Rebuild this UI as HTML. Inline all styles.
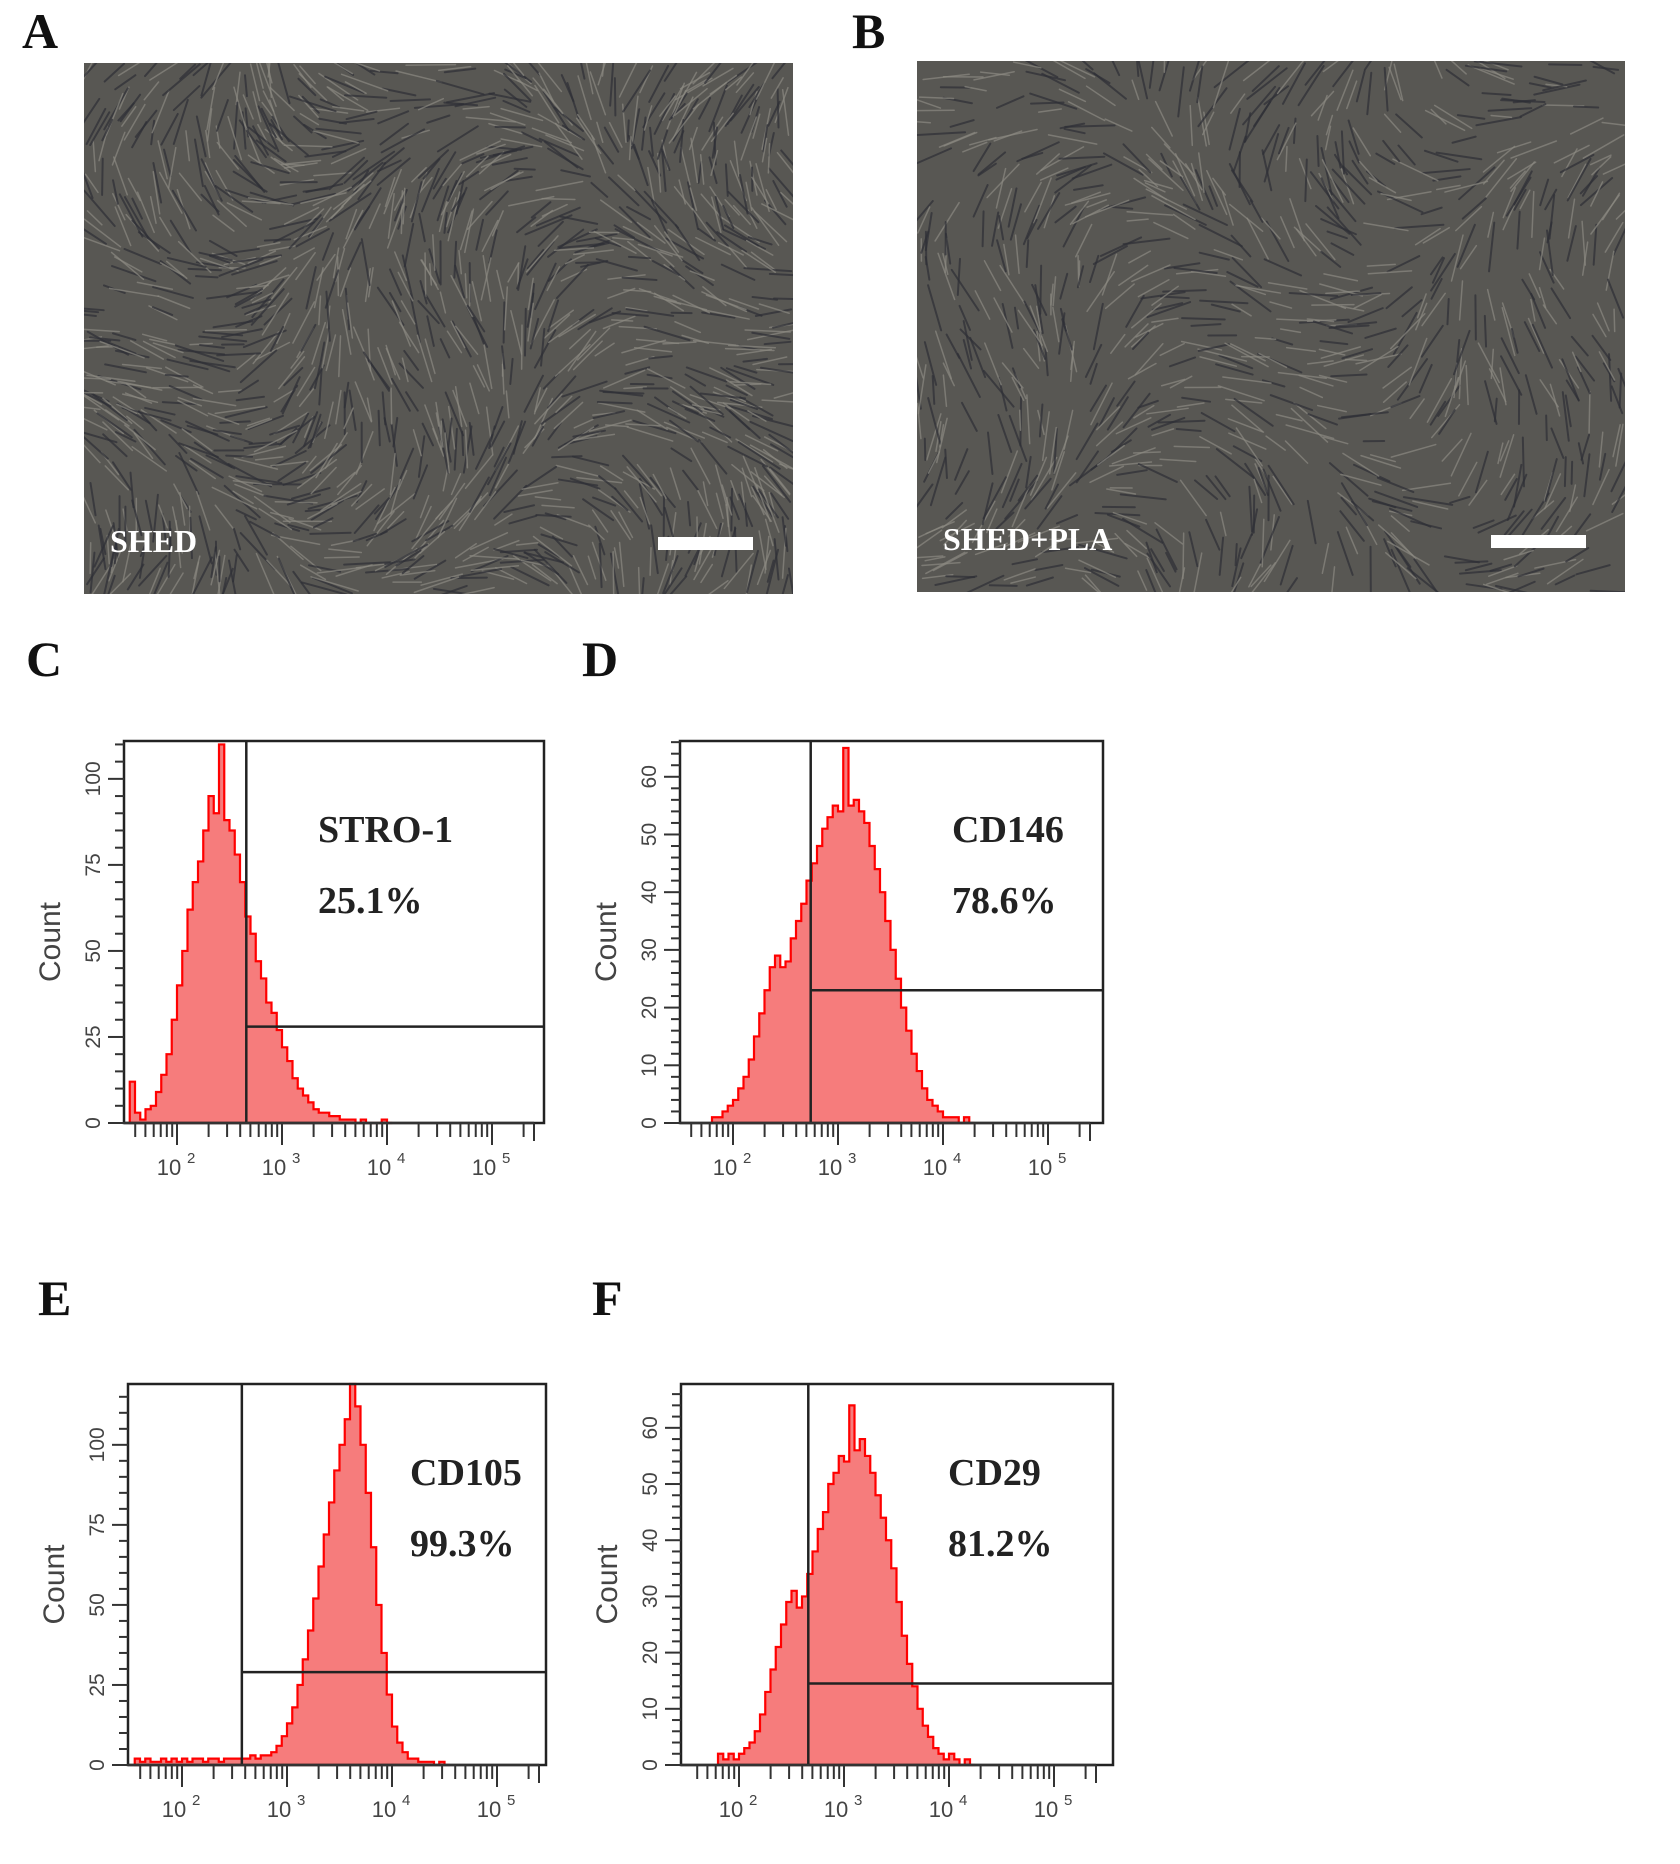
<!DOCTYPE html>
<html><head><meta charset="utf-8"><style>
html,body{margin:0;padding:0;background:#fff;}
svg{display:block;}
</style></head><body>
<svg id="fig" width="1680" height="1864" viewBox="0 0 1680 1864" xmlns="http://www.w3.org/2000/svg">
<g font-family="Liberation Serif, serif" font-weight="bold" fill="#111">
<text x="22" y="48" font-size="50">A</text>
<text x="852" y="48" font-size="50">B</text>
<text x="26" y="676" font-size="50">C</text>
<text x="582" y="676" font-size="50">D</text>
<text x="38" y="1315" font-size="50">E</text>
<text x="592" y="1315" font-size="50">F</text>
</g>
<g id="photos"></g>
<g id="charts"></g>
</svg>
<script>
// ---- histogram data (log10 bin start, step 0.05) ----
const cStart = 1.55;
const cCounts = [12,3,1,4,5,9,14,20,30,40,50,62,70,76,85,95,90,110,88,85,78,70,60,55,47,42,35,32,27,22,18,13,10,8,6,4,3,3,2,2,1,1,1,0,1,0,0,0,1,0];
const dStart = 1.8;
const dCounts = [1,1,2,3,4,6,8,11,15,19,23,27,29,27,28,32,35,38,42,45,48,51,53,55,54,65,55,56,54,52,48,44,40,35,30,25,20,16,12,9,6,4,3,2,1,1,1,0,1,0];
const eStart = 1.55;
const eCounts = [2,1,2,1,1,2,1,2,1,2,1,2,2,1,2,2,1,2,2,2,2,2,3,2,3,3,4,6,9,13,18,25,33,42,52,62,72,82,92,100,108,119,112,100,85,68,50,35,22,12,7,4,2,2,1,1,1,0,1,0];
const fStart = 1.8;
const fCounts = [2,1,2,1,2,3,4,6,9,13,17,21,25,29,31,28,30,34,38,42,45,50,52,55,54,64,56,58,55,52,48,44,40,35,29,23,18,14,10,7,5,3,2,1,2,1,0,1,0];
const cLabels = ['STRO-1','25.1%'];
const dLabels = ['CD146','78.6%'];
const eLabels = ['CD105','99.3%'];
const fLabels = ['CD29','81.2%'];
const cYTicks = [0,25,50,75,100];
const dYTicks = [0,10,20,30,40,50,60];
const eYTicks = [0,25,50,75,100];
const fYTicks = [0,10,20,30,40,50,60];
const xDecades = [2,3,4,5];
const cGate = [2.66,28];
const dGate = [2.74,23];
const eGate = [2.57,29];
const fGate = [2.66,14.5];

const NS='http://www.w3.org/2000/svg';
function mk(tag,attrs,parent){const e=document.createElementNS(NS,tag);for(const k in attrs)e.setAttribute(k,attrs[k]);parent.appendChild(e);return e;}

// ---- photos (texture decoration) ----
const photos=document.getElementById('photos');
let seed=12345;function rnd(){seed=(seed*1103515245+12345)%2147483648;return seed/2147483648;}
function photo(x0,y0,x1,y1,name,label,barX,dense){
  const g=mk('g',{},photos);
  
  
  mk('rect',{x:x0,y:y0,width:x1-x0,height:y1-y0,fill:'#585753'},g);
  const clip=mk('clipPath',{id:name+'-clip'},g);
  mk('rect',{x:x0,y:y0,width:x1-x0,height:y1-y0},clip);
  const tg=mk('g',{'clip-path':'url(#'+name+'-clip)'},g);
  const n=dense?1400:900;
  for(let i=0;i<n;i++){
    const cx=x0+rnd()*(x1-x0),cy=y0+rnd()*(y1-y0);
    const a=(Math.sin(cx/90)+Math.cos(cy/110))*1.2+rnd()*0.6;
    const L=20+rnd()*30;
    const dx=Math.cos(a)*L/2,dy=Math.sin(a)*L/2;
    const light=rnd()<0.5;
    mk('line',{x1:cx-dx,y1:cy-dy,x2:cx+dx,y2:cy+dy,stroke:light?'#8c8a82':'#2e2f36','stroke-width':light?1.5:2,'stroke-linecap':'round',opacity:0.7},tg);
  }
  const t=mk('text',{x:x0+26,y:y1-42,'font-family':'Liberation Serif, serif','font-weight':'bold','font-size':32,fill:'#fff'},g);
  t.textContent=label;
  
  
  const sb=mk('rect',{x:barX,y:y1-57,width:95,height:13,fill:'#fff'},g);
  
  
}
photo(84,63,793,594,'photo-shed','SHED',658,true);
photo(917,61,1625,592,'photo-shed-pla','SHED+PLA',1491,false);

// ---- charts ----
const charts=document.getElementById('charts');
function chart(name,box,x2px,yMax,yTicks,start,counts,gate,labels,labX){
  const [X0,Y0,X1,Y1]=box;const dec=105;
  const xs=v=>x2px+(v-2)*dec;
  const ys=c=>Y1-c/yMax*(Y1-Y0);
  const g=mk('g',{},charts);
  
  
  let d='M'+xs(start)+','+Y1;
  counts.forEach((c,i)=>{const a=xs(start+i*0.05),b=xs(start+(i+1)*0.05),y=Math.max(ys(c),Y0);d+=' L'+a+','+y+' L'+b+','+y;});
  d+=' L'+xs(start+counts.length*0.05)+','+Y1+' Z';
  const h=mk('path',{d:d,fill:'#f67c7c',stroke:'#ff0000','stroke-width':2.2,'stroke-linejoin':'miter'},g);
  
  
  mk('rect',{x:X0,y:Y0,width:X1-X0,height:Y1-Y0,fill:'none',stroke:'#222','stroke-width':2.5},g);
  const gv=mk('line',{x1:xs(gate[0]),y1:Y0,x2:xs(gate[0]),y2:Y1,stroke:'#222','stroke-width':2.5},g);
  
  
  const gh=mk('line',{x1:xs(gate[0]),y1:ys(gate[1]),x2:X1,y2:ys(gate[1]),stroke:'#222','stroke-width':2.5},g);
  
  
  const step=yTicks[1]-yTicks[0];const minor=step/5;
  for(let v=0;v<=yMax+0.001;v+=minor){
    const isMaj=Math.abs(v/step-Math.round(v/step))<1e-6;
    mk('line',{x1:X0-(isMaj?16:9),y1:ys(v),x2:X0,y2:ys(v),stroke:'#333','stroke-width':2},g);
  }
  yTicks.forEach(v=>{
    const t=mk('text',{x:0,y:0,transform:'translate('+(X0-24)+','+ys(v)+') rotate(-90)','text-anchor':'middle','font-family':'Liberation Sans, sans-serif','font-size':21,fill:'#444'},g);
    t.textContent=v;
    
    
  });
  const yt=mk('text',{x:0,y:0,transform:'translate('+(X0-64)+','+((Y0+Y1)/2+10)+') rotate(-90)','text-anchor':'middle','font-family':'Liberation Sans, sans-serif','font-size':30,fill:'#444'},g);
  yt.textContent='Count';
  
  
  mk('line',{x1:X0,y1:Y1,x2:xs(5.4),y2:Y1,stroke:'#333','stroke-width':2.5},g);
  for(let e=1;e<=5;e++){for(let m=1;m<10;m++){
    const v=e+Math.log10(m);const px=xs(v);
    if(px<X0+4||v>5.42)continue;
    mk('line',{x1:px,y1:Y1,x2:px,y2:Y1+(m===1?22:14),stroke:'#333','stroke-width':2},g);
  }}
  mk('line',{x1:xs(5.4),y1:Y1,x2:xs(5.4),y2:Y1+18,stroke:'#333','stroke-width':2},g);
  xDecades.forEach(e=>{
    const t=mk('text',{x:xs(e)-8,y:Y1+52,'text-anchor':'middle','font-family':'Liberation Sans, sans-serif','font-size':22,fill:'#444'},g);
    t.textContent='10';
    
    
    const s=mk('text',{x:xs(e)+10,y:Y1+40,'font-family':'Liberation Sans, sans-serif','font-size':15,fill:'#444'},g);
    s.textContent=e;
  });
  const l1=mk('text',{x:labX,y:Y0+101,'font-family':'Liberation Serif, serif','font-weight':'bold','font-size':38,fill:'#222'},g);
  l1.textContent=labels[0];
  
  
  const l2=mk('text',{x:labX,y:Y0+172,'font-family':'Liberation Serif, serif','font-weight':'bold','font-size':38,fill:'#222'},g);
  l2.textContent=labels[1];
  
  
}
chart('histogram-stro1',[124,741,544,1123],177,111,cYTicks,cStart,cCounts,cGate,cLabels,318);
chart('histogram-cd146',[680,741,1103,1123],733,66.2,dYTicks,dStart,dCounts,dGate,dLabels,952);
chart('histogram-cd105',[128,1384,546,1765],182,119,eYTicks,eStart,eCounts,eGate,eLabels,410);
chart('histogram-cd29',[681,1384,1113,1765],739,67.8,fYTicks,fStart,fCounts,fGate,fLabels,948);
</script>
</body></html>
